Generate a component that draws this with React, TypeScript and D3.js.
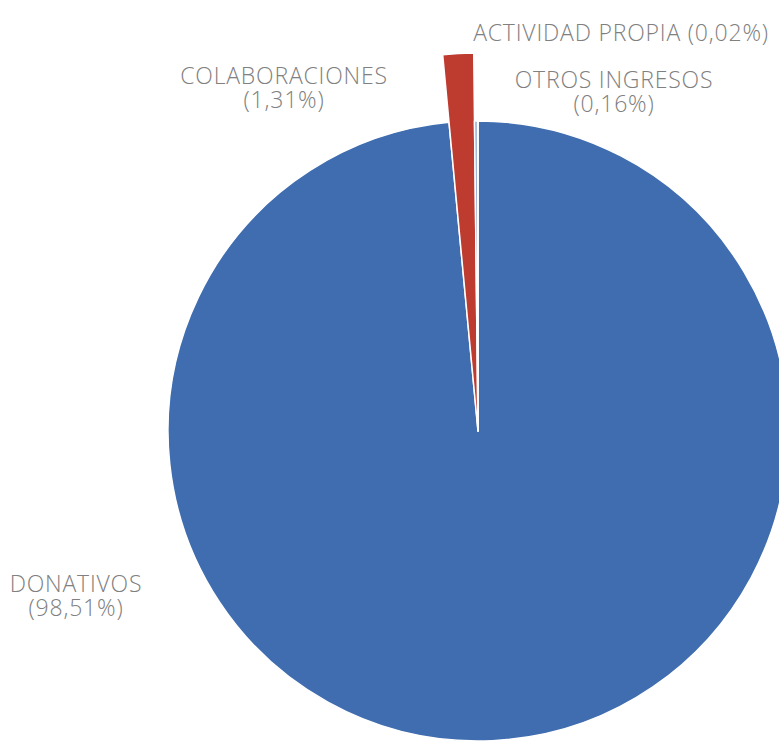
import React from "react";
import * as d3 from "d3";

const categories = ["DONATIVOS", "COLABORACIONES", "OTROS INGRESOS", "ACTIVIDAD PROPIA"];
const values = [98.51, 1.31, 0.16, 0.02];
const valueLabels = ["98,51%", "1,31%", "0,16%", "0,02%"];
const colors = ["#3F6DAF", "#BE3B2F", "#8FA9D4", "#7E9ACB"];

const W = 779;
const H = 742;
const cx = 478;
const cy = 431;
const R = 310;

// label layout: [x, y of first line, single line?]
const labelLayout: { x: number; y: number; single: boolean }[] = [
  { x: 76, y: 592, single: false },
  { x: 284, y: 84, single: false },
  { x: 614, y: 88, single: false },
  { x: 621, y: 41, single: true },
];

export default function App() {
  const pie = d3.pie<number>().sort(null).value((d) => d).startAngle(0).endAngle(2 * Math.PI);
  const arcs = pie(values);
  const arcGen = d3.arc<d3.PieArcDatum<number>>().innerRadius(0);
  return (
    <svg width={W} height={H} style={{ position: "absolute", left: 0, top: 0, background: "#fff" }}>
      <g transform={`translate(${cx},${cy})`}>
        {arcs.map((a, i) => (
          <path
            key={i}
            d={arcGen.outerRadius(i === 1 ? 378 : R)(a) || ""}
            fill={colors[i]}
            stroke="#fff"
            strokeWidth={1.5}
            strokeLinejoin="round"
          />
        ))}
      </g>
      {categories.map((c, i) => {
        const l = labelLayout[i];
        return (
          <text
            key={c}
            x={l.x}
            y={l.y}
            textAnchor="middle"
            fontFamily="'Open Sans', Lato, sans-serif"
            fontWeight={300}
            fontSize={23}
            letterSpacing={0.8}
            fill="#808080"
          >
            {l.single ? (
              `${c} (${valueLabels[i]})`
            ) : (
              <>
                <tspan x={l.x}>{c}</tspan>
                <tspan x={l.x} dy={24}>{`(${valueLabels[i]})`}</tspan>
              </>
            )}
          </text>
        );
      })}
    </svg>
  );
}
